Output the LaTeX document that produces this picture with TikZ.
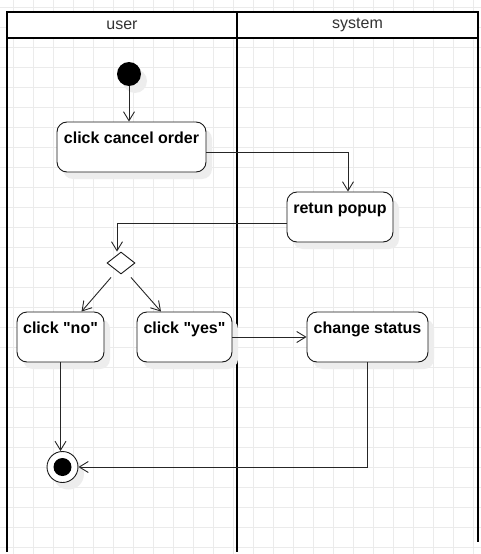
\documentclass[tikz,border=0pt]{standalone}
\usepackage{fontspec}
\setmainfont{Liberation Sans}
\usetikzlibrary{arrows.meta}
\usetikzlibrary{shapes.geometric}
\usetikzlibrary{shadows}

\begin{document}
\begin{tikzpicture}[x=1pt, y=-1pt,
    gridline/.style={draw=black!8, line width=0.6pt},
    pool/.style={draw=black, line width=1.8pt},
    lanetitle/.style={font=\fontsize{16}{19}\selectfont, text=black!80},
    boxshadow/.style={drop shadow={shadow xshift=6pt, shadow yshift=-7pt, fill=black!7, opacity=1}},
    activity/.style={draw=black!90, line width=0.9pt, rounded corners=10pt, fill=white,
      font=\bfseries\fontsize{16}{19}\selectfont, inner ysep=0pt,
      text height=21pt, text depth=29pt, boxshadow},
    startnode/.style={circle, fill=black, minimum size=24pt, inner sep=0pt, boxshadow},
    endnode/.style={circle, draw=black!90, line width=0.9pt, fill=white, minimum size=31pt, inner sep=0pt, boxshadow},
    decision/.style={diamond, draw=black!90, line width=0.9pt, fill=white, minimum width=28pt, minimum height=22pt, inner sep=0pt},
    flow/.style={draw=black!85, line width=0.9pt, -{Straight Barb[length=9pt, width=11pt]}}]
  \useasboundingbox (0,0) rectangle (481,554);
  \fill[white] (0,0) rectangle (481,554);
  \foreach \gx in {13,33,...,473} \draw[gridline] (\gx,0) -- (\gx,554);
  \foreach \gy in {7,27,...,547} \draw[gridline] (0,\gy) -- (481,\gy);

  % pool with two lanes
  \fill[white] (7,12) rectangle (478,38);
  \draw[pool] (7,552) -- (7,12) -- (478,12) -- (478,542);
  \draw[pool] (7,38) -- (478,38);
  \draw[pool] (237,12) -- (237,552);
  \node[lanetitle] (usertitle) at (122,25) {user};
  \node[lanetitle] (systemtitle) at (357.5,25) {system};

  \node[startnode] (start) at (129,74) {};
  \node[activity, minimum width=149pt] (cancel) at (131.5,147) {click cancel order};
  \node[activity, minimum width=106pt] (popup) at (340,217) {retun popup};
  \node[decision] (choice) at (121,263) {};
  \node[activity, minimum width=87pt] (no) at (60.5,337) {click \textquotedbl no\textquotedbl};
  \node[activity, minimum width=95pt] (yes) at (184.5,337) {click \textquotedbl yes\textquotedbl};
  \node[activity, minimum width=121pt] (status) at (367.5,337) {change status};
  \node[endnode] (final) at (62.5,467) {};
  \fill (final) circle (9pt);

  \draw[flow] (start.south) -- (start.south |- cancel.north);
  \draw[flow] ([yshift=-5pt]cancel.east) -| ([xshift=8pt]popup.north);
  \draw[flow] ([yshift=-6pt]popup.west) -| ([xshift=-4pt]choice.north);
  \draw[flow] ([xshift=-10pt, yshift=-3pt]choice.south) -- ([xshift=21pt]no.north);
  \draw[flow] ([xshift=10pt, yshift=-3pt]choice.south) -- ([xshift=-23.5pt]yes.north);
  \draw[flow] (yes.east) -- (status.west);
  \draw[flow] (no.south) -- (no.south |- final.north);
  \draw[flow] (status.south) |- (final.east);
\end{tikzpicture}
\end{document}
